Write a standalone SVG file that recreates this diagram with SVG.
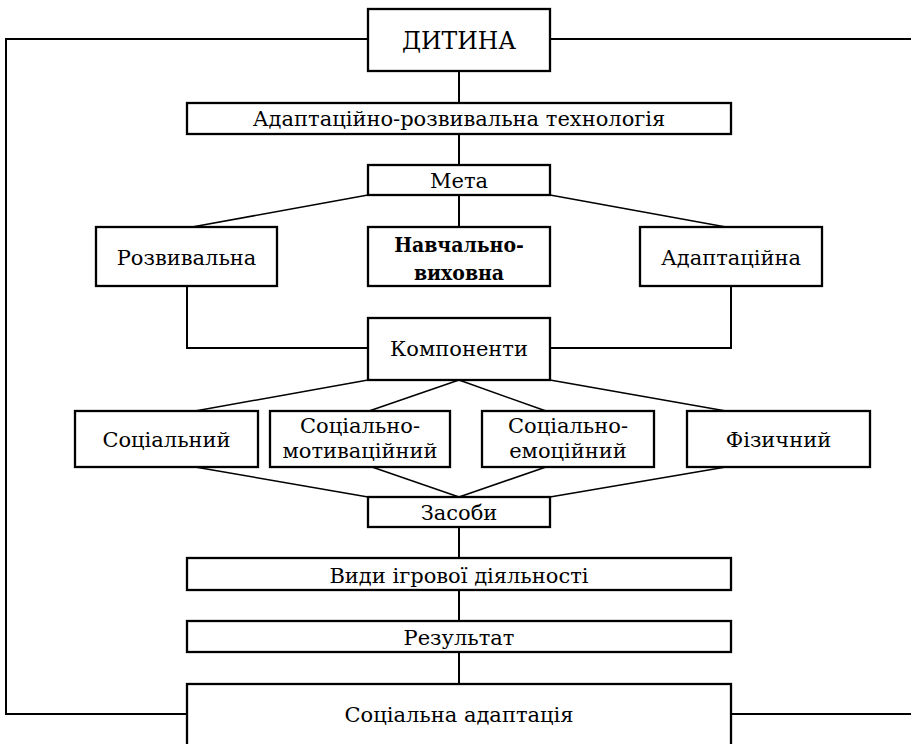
<svg xmlns="http://www.w3.org/2000/svg" width="911" height="744" viewBox="0 0 911 744">
<style>
.box{fill:#fff;stroke:#000;stroke-width:2.3}
.ln{fill:none;stroke:#000;stroke-width:2}
.dg{fill:none;stroke:#000;stroke-width:1.5}
text{font-family:"DejaVu Serif",serif;font-size:21px;fill:#000;text-anchor:middle}
.b{font-family:"DejaVu Serif Condensed","DejaVu Serif",serif;font-stretch:condensed;font-weight:bold}
</style>
<rect width="911" height="744" fill="#fff"/>
<g id="connectors">
<polyline class="ln" points="368,39 6,39 6,714 187,714"/>
<line class="ln" x1="550" y1="39" x2="911" y2="39"/>
<line class="ln" x1="731" y1="714" x2="911" y2="714"/>
<line class="ln" x1="459" y1="71" x2="459" y2="103"/>
<line class="ln" x1="459" y1="134" x2="459" y2="165"/>
<line class="dg" x1="368" y1="195" x2="192" y2="227"/>
<line class="ln" x1="459" y1="195" x2="459" y2="227"/>
<line class="dg" x1="550" y1="195" x2="726" y2="227"/>
<polyline class="ln" points="187,287 187,348 368,348"/>
<polyline class="ln" points="731,287 731,348 550,348"/>
<line class="dg" x1="368" y1="380" x2="195" y2="411"/>
<line class="dg" x1="459" y1="380" x2="369" y2="411"/>
<line class="dg" x1="459" y1="380" x2="546" y2="411"/>
<line class="dg" x1="550" y1="380" x2="726" y2="411"/>
<line class="dg" x1="195" y1="467" x2="368" y2="497"/>
<line class="dg" x1="372" y1="467" x2="459" y2="497"/>
<line class="dg" x1="546" y1="467" x2="459" y2="497"/>
<line class="dg" x1="726" y1="467" x2="550" y2="497"/>
<line class="ln" x1="459" y1="527" x2="459" y2="558"/>
<line class="ln" x1="459" y1="590" x2="459" y2="621"/>
<line class="ln" x1="459" y1="652" x2="459" y2="684"/>
</g>
<g id="n-dytyna"><rect class="box" x="368" y="9" width="182" height="62"/><text x="459" y="49" style="font-size:23.5px">ДИТИНА</text></g>
<g id="n-tech"><rect class="box" x="187" y="103" width="544" height="31"/><text x="459" y="126">Адаптаційно-розвивальна технологія</text></g>
<g id="n-meta"><rect class="box" x="368" y="165" width="182" height="30"/><text x="459" y="188">Мета</text></g>
<g id="n-rozv"><rect class="box" x="96" y="227" width="181" height="59"/><text x="186.5" y="265">Розвивальна</text></g>
<g id="n-navch"><rect class="box" x="368" y="227" width="182" height="59"/><text class="b" x="459" y="252">Навчально-</text><text class="b" x="459" y="280">виховна</text></g>
<g id="n-adapt"><rect class="box" x="640" y="227" width="182" height="59"/><text x="731" y="265">Адаптаційна</text></g>
<g id="n-komp"><rect class="box" x="368" y="318" width="182" height="62"/><text x="459" y="356">Компоненти</text></g>
<g id="n-soc"><rect class="box" x="75" y="411" width="183" height="56"/><text x="166.5" y="447">Соціальний</text></g>
<g id="n-socmot"><rect class="box" x="270" y="411" width="180" height="56"/><text x="360" y="433">Соціально-</text><text x="360" y="458">мотиваційний</text></g>
<g id="n-socem"><rect class="box" x="482" y="411" width="172" height="56"/><text x="568" y="433">Соціально-</text><text x="568" y="458">емоційний</text></g>
<g id="n-fiz"><rect class="box" x="687" y="411" width="183" height="56"/><text x="778.5" y="447">Фізичний</text></g>
<g id="n-zasoby"><rect class="box" x="368" y="497" width="182" height="30"/><text x="459" y="520">Засоби</text></g>
<g id="n-vydy"><rect class="box" x="187" y="558" width="544" height="32"/><text x="459" y="583">Види ігрової діяльності</text></g>
<g id="n-rez"><rect class="box" x="187" y="621" width="544" height="31"/><text x="459" y="645">Результат</text></g>
<g id="n-socad"><rect class="box" x="187" y="684" width="544" height="80"/><text x="459" y="722">Соціальна адаптація</text></g>
</svg>
